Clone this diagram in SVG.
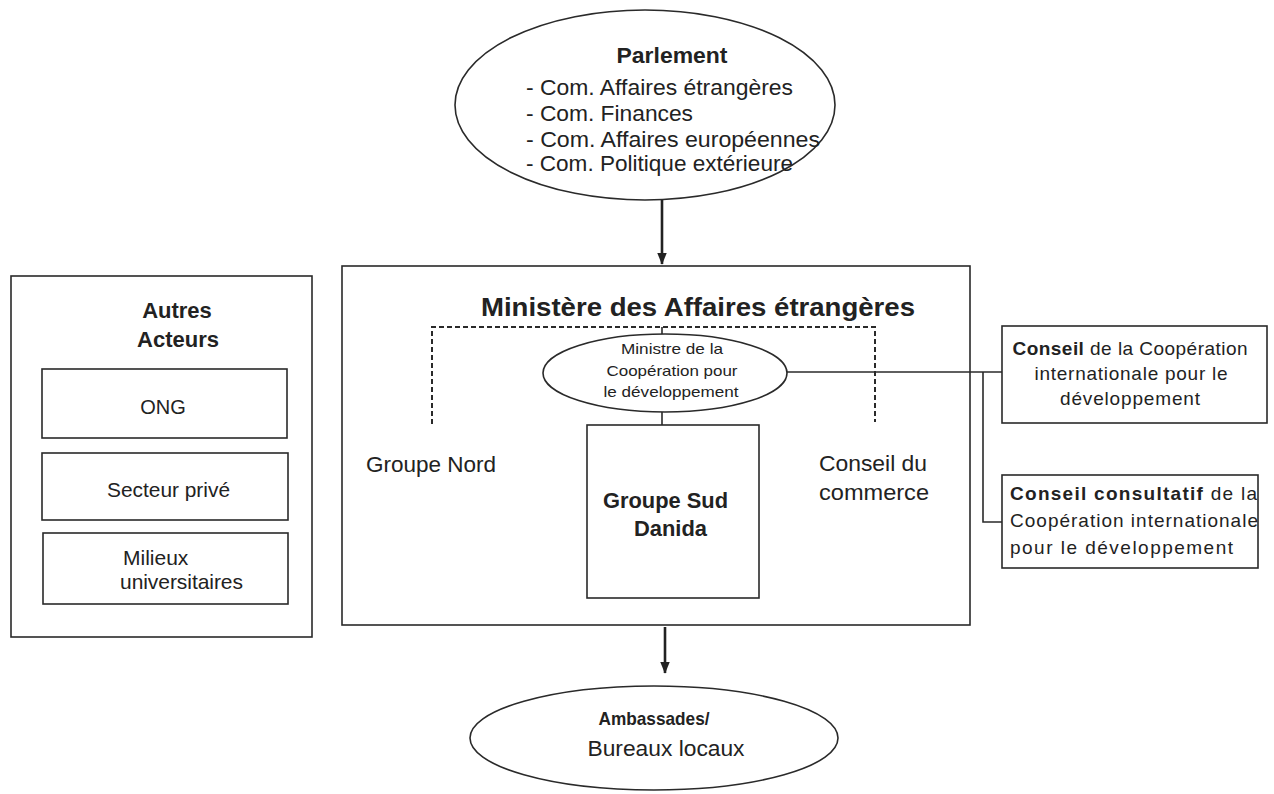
<svg xmlns="http://www.w3.org/2000/svg" width="1274" height="794" viewBox="0 0 1274 794">
<defs>
<style>
text{font-family:"Liberation Sans",Arial,sans-serif;fill:#222}
.b{font-weight:bold}
.box{fill:none;stroke:#2a2a2a;stroke-width:1.6}
.ell{fill:#fff;stroke:#2a2a2a;stroke-width:1.6}
.ln{fill:none;stroke:#2a2a2a;stroke-width:1.6}
.dash{fill:none;stroke:#2a2a2a;stroke-width:2;stroke-dasharray:5 3}
.arr{fill:none;stroke:#222;stroke-width:2.6}
</style>
<marker id="ahd" markerWidth="12" markerHeight="15" refX="14" refY="6" orient="auto" markerUnits="userSpaceOnUse" viewBox="0 0 15 12">
<path d="M0,0 L15,6 L0,12 Z" fill="#222"/>
</marker>
</defs>

<g id="connectors">
<line class="arr" x1="662" y1="200" x2="662" y2="264" marker-end="url(#ahd)"/>
<line class="arr" x1="665" y1="627" x2="665" y2="673" marker-end="url(#ahd)"/>
<path class="dash" d="M432,424 V327 H875 V422"/>
<line class="ln" x1="662" y1="327" x2="662" y2="335"/>
<line class="ln" x1="662" y1="412" x2="662" y2="425"/>
<line class="ln" x1="787" y1="372" x2="1002" y2="372"/>
<path class="ln" d="M983,372 V522 H1002"/>
</g>

<g id="parlement">
<ellipse class="ell" cx="645" cy="105" rx="190" ry="95"/>
<text class="b" x="672" y="63" font-size="22" text-anchor="middle" textLength="111" lengthAdjust="spacingAndGlyphs">Parlement</text>
<text x="526" y="95" font-size="22" textLength="267" lengthAdjust="spacingAndGlyphs">- Com. Affaires étrangères</text>
<text x="526" y="121" font-size="22" textLength="167" lengthAdjust="spacingAndGlyphs">- Com. Finances</text>
<text x="526" y="147" font-size="22" textLength="294" lengthAdjust="spacingAndGlyphs">- Com. Affaires européennes</text>
<text x="526" y="171" font-size="22" textLength="267" lengthAdjust="spacingAndGlyphs">- Com. Politique extérieure</text>
</g>

<g id="ministere">
<rect class="box" x="342" y="266" width="628" height="359"/>
<text class="b" x="698" y="316" font-size="25" text-anchor="middle" textLength="434" lengthAdjust="spacingAndGlyphs">Ministère des Affaires étrangères</text>
</g>

<g id="ministre">
<ellipse class="ell" cx="665" cy="373" rx="122" ry="39"/>
<text x="672" y="354" font-size="15" text-anchor="middle" textLength="102" lengthAdjust="spacingAndGlyphs">Ministre de la</text>
<text x="672" y="376" font-size="15" text-anchor="middle" textLength="131" lengthAdjust="spacingAndGlyphs">Coopération pour</text>
<text x="671" y="397" font-size="15" text-anchor="middle" textLength="135" lengthAdjust="spacingAndGlyphs">le développement</text>
</g>

<g id="groupe-nord">
<text x="366" y="472" font-size="22" textLength="130" lengthAdjust="spacingAndGlyphs">Groupe Nord</text>
</g>

<g id="groupe-sud">
<rect class="box" x="587" y="425" width="172" height="173"/>
<text class="b" x="603" y="508" font-size="22" textLength="125" lengthAdjust="spacingAndGlyphs">Groupe Sud</text>
<text class="b" x="634" y="536" font-size="22" textLength="73" lengthAdjust="spacingAndGlyphs">Danida</text>
</g>

<g id="conseil-commerce">
<text x="819" y="471" font-size="22" textLength="108" lengthAdjust="spacingAndGlyphs">Conseil du</text>
<text x="819" y="500" font-size="22" textLength="110" lengthAdjust="spacingAndGlyphs">commerce</text>
</g>

<g id="conseil-cooperation">
<rect class="box" x="1002" y="326" width="265" height="97"/>
<text x="1130" y="355" font-size="19" text-anchor="middle" textLength="235" lengthAdjust="spacing"><tspan class="b">Conseil</tspan> de la Coopération</text>
<text x="1131" y="380" font-size="19" text-anchor="middle" textLength="193" lengthAdjust="spacing">internationale pour le</text>
<text x="1130" y="405" font-size="19" text-anchor="middle" textLength="140" lengthAdjust="spacing">développement</text>
</g>

<g id="conseil-consultatif">
<rect class="box" x="1002" y="475" width="256" height="93"/>
<text x="1010" y="500" font-size="19" textLength="247" lengthAdjust="spacing"><tspan class="b">Conseil consultatif</tspan> de la</text>
<text x="1010" y="527" font-size="19" textLength="248" lengthAdjust="spacing">Coopération internationale</text>
<text x="1010" y="554" font-size="19" textLength="223" lengthAdjust="spacing">pour le développement</text>
</g>

<g id="autres-acteurs">
<rect class="box" x="11" y="276" width="301" height="361"/>
<text class="b" x="177" y="318" font-size="22" text-anchor="middle">Autres</text>
<text class="b" x="178" y="347" font-size="22" text-anchor="middle">Acteurs</text>
</g>

<g id="ong">
<rect class="box" x="42" y="369" width="245" height="69"/>
<text x="163" y="414" font-size="20" text-anchor="middle">ONG</text>
</g>

<g id="secteur-prive">
<rect class="box" x="42" y="453" width="246" height="67"/>
<text x="107" y="497" font-size="21" textLength="123" lengthAdjust="spacingAndGlyphs">Secteur privé</text>
</g>

<g id="milieux">
<rect class="box" x="43" y="533" width="245" height="71"/>
<text x="123" y="565" font-size="21">Milieux</text>
<text x="120" y="589" font-size="21" textLength="123" lengthAdjust="spacing">universitaires</text>
</g>

<g id="ambassades">
<ellipse class="ell" cx="654" cy="738" rx="184" ry="52"/>
<text class="b" x="654" y="725" font-size="19" text-anchor="middle" textLength="111" lengthAdjust="spacingAndGlyphs">Ambassades/</text>
<text x="666" y="756" font-size="22" text-anchor="middle" textLength="157" lengthAdjust="spacingAndGlyphs">Bureaux locaux</text>
</g>
</svg>
